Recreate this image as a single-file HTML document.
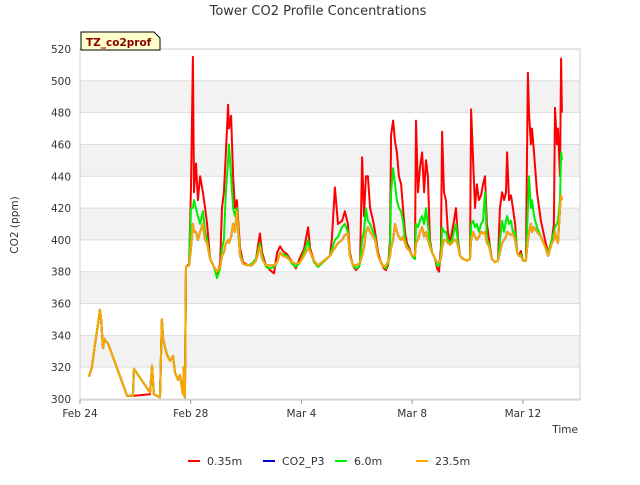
<!DOCTYPE html>
<html><head><meta charset="utf-8"><style>
body{margin:0;background:#fff;}
svg{font-family:"DejaVu Sans","Liberation Sans",sans-serif;}
</style></head><body>
<svg id="chart" width="640" height="480" viewBox="0 0 640 480">
<defs><clipPath id="clip"><rect x="80" y="49" width="500" height="351"/></clipPath></defs>
<rect x="0" y="0" width="640" height="480" fill="#fff"/>
<g id="bands"></g>
<g id="grid"></g>
<rect x="80" y="49" width="500" height="351" fill="none" stroke="#ccc"/>
<g id="series" clip-path="url(#clip)"></g>
<g id="axes"></g>
<text x="318" y="15" text-anchor="middle" font-size="13" fill="#333">Tower CO2 Profile Concentrations</text>
<text x="18" y="225" text-anchor="middle" font-size="10.5" fill="#333" transform="rotate(-90 18 225)">CO2 (ppm)</text>
<text x="578" y="433" text-anchor="end" font-size="10.5" fill="#333">Time</text>
<g>
<path d="M81,50 L81,32 L154,32 L160,38 L160,50 Z" fill="#ffffcc" stroke="#000" stroke-width="1"/>
<text x="86" y="46" font-size="10.5" font-weight="bold" fill="#8b0000">TZ_co2prof</text>
</g>
<g id="legend"></g>
</svg>
<script>
const yTicks=[300,320,340,360,380,400,420,440,460,480,500,520];
const xTickDays=[0,4,8,12,16];
const xTickLabels=["Feb 24","Feb 28","Mar 4","Mar 8","Mar 12"];
const days=[0.32,0.43,0.54,0.65,0.72,0.76,0.83,0.87,0.94,1.01,1.70,1.91,1.95,2.53,2.60,2.67,2.89,2.96,3.00,3.14,3.25,3.36,3.43,3.54,3.61,3.72,3.75,3.79,
3.83,3.94,4.01,4.08,4.12,4.19,4.26,4.34,4.44,4.52,
4.59,4.70,4.84,4.95,5.06,5.13,5.20,5.27,5.35,5.38,
5.46,5.53,5.60,5.67,5.78,5.89,6.07,6.21,6.36,6.50,
6.58,6.72,6.86,7.01,7.12,7.23,7.33,7.48,7.66,7.80,
7.95,8.09,8.24,8.31,8.45,8.60,9.03,9.10,9.21,9.32,
9.47,9.57,9.68,9.75,9.86,9.97,10.08,10.12,10.19,10.26,
10.33,10.40,10.48,10.59,10.66,10.77,10.87,10.98,11.05,11.13,
11.20,11.24,11.31,11.38,11.45,11.52,11.60,11.67,11.74,11.81,
11.92,11.99,12.10,12.14,12.21,12.28,12.36,12.43,12.50,12.57,
12.64,12.72,12.83,12.90,12.97,13.04,13.08,13.15,13.22,13.29,
13.37,13.44,13.51,13.58,13.66,13.73,13.84,13.98,14.09,14.13,
14.20,14.27,14.34,14.41,14.49,14.56,14.63,14.70,14.78,14.88,
14.99,15.10,15.17,15.25,15.32,15.39,15.43,15.50,15.57,15.64,
15.72,15.79,15.86,15.93,16.00,16.11,16.18,16.22,16.29,16.33,
16.40,16.51,16.65,16.80,16.91,17.05,17.12,17.16,17.23,17.27,
17.34,17.38,17.41];
const red=[314,320,334,347,356,351,332,338,336,335,302,302,302,303,321,303,301,350,338,328,324,327,317,312,315,303,320,301,
383,385,433,515,430,448,425,440,430,420,
410,388,383,378,385,420,430,455,485,470,
478,440,420,425,395,386,384,385,388,404,
392,384,381,379,392,396,393,391,386,382,
389,394,408,395,387,383,390,401,433,410,
412,418,410,392,384,381,383,386,452,415,
440,440,420,412,405,392,386,382,381,384,
400,466,475,462,455,440,435,420,405,398,
394,390,388,475,430,445,455,430,450,440,
400,392,388,382,380,395,468,430,425,405,
398,405,412,420,400,390,388,387,388,482,
450,420,435,425,428,435,440,410,400,388,
386,387,420,430,425,430,455,425,428,420,
410,392,390,393,387,387,505,480,460,470,
455,430,412,400,392,400,410,483,460,470,
440,514,480];
const green=[314,320,334,347,356,351,332,338,336,335,302,302,319,304,321,303,301,350,338,328,324,327,317,312,315,303,320,301,
383,384,420,420,425,420,415,410,418,405,
400,388,383,376,382,395,400,430,450,460,
440,420,415,420,392,385,384,385,388,398,
390,383,382,383,386,392,391,390,385,383,
386,392,400,393,386,383,390,394,400,402,
408,410,405,390,384,382,383,386,400,405,
420,412,410,405,402,390,386,383,382,385,
395,430,445,435,425,420,418,412,400,396,
393,390,388,410,408,412,415,410,420,410,
398,392,388,384,384,390,408,405,405,400,
398,400,405,410,398,390,388,387,388,410,
412,408,410,405,410,412,430,400,398,388,
386,387,400,412,405,412,415,410,412,405,
405,392,390,391,387,387,420,440,420,425,
415,408,402,396,392,400,405,408,410,412,
425,455,450];
const orange=[314,320,334,347,356,351,332,338,336,335,302,302,319,304,321,303,301,350,338,328,324,327,317,312,315,303,320,301,
383,384,395,410,405,405,400,405,410,400,
398,388,383,380,383,390,392,398,400,398,
402,410,405,418,390,385,384,384,387,396,
388,384,384,384,386,392,390,389,386,385,
386,390,395,393,387,384,390,392,395,398,
400,403,404,390,384,384,385,386,390,395,
405,408,405,402,400,390,386,383,384,386,
390,395,400,410,405,402,400,402,398,395,
393,390,390,398,400,405,408,402,405,400,
396,392,388,386,386,388,395,400,400,398,
397,398,400,400,396,390,388,387,388,400,
405,402,400,402,405,404,405,398,396,388,
386,387,392,398,400,402,405,404,403,404,
400,392,390,390,387,387,400,405,410,405,
408,405,402,396,390,398,400,405,400,398,
420,428,425];
const blue=orange.slice();
const seriesNames=["CO2_P3","0.35m","6.0m","23.5m"];

const NS="http://www.w3.org/2000/svg";
const X=d=>80+d*27.68;
const Y=v=>399-(v-300)*1.591;
function mk(tag,attrs,parent){const e=document.createElementNS(NS,tag);for(const k in attrs)e.setAttribute(k,attrs[k]);parent.appendChild(e);return e;}
const bands=document.getElementById('bands'),grid=document.getElementById('grid'),axes=document.getElementById('axes'),ser=document.getElementById('series'),leg=document.getElementById('legend');
for(let i=0;i<yTicks.length-1;i++){
  if(i%2===1){const r=mk('rect',{x:80,y:Y(yTicks[i+1]),width:500,height:Y(yTicks[i])-Y(yTicks[i+1]),fill:'#f2f2f2'},bands);
  
  }
}
yTicks.forEach(v=>{
  const l=mk('line',{x1:80,x2:580,y1:Y(v),y2:Y(v),stroke:'#ddd'},grid);
  
  
  const t=mk('text',{x:71,y:Y(v)+4,'text-anchor':'end','font-size':10.5,fill:'#333'},axes);
  t.textContent=v;
  
  
});
xTickDays.forEach((d,i)=>{
  const l=mk('line',{x1:X(d),x2:X(d),y1:400,y2:404,stroke:'#999'},axes);
  
  
  const t=mk('text',{x:X(d),y:417,'text-anchor':'middle','font-size':10.5,fill:'#333'},axes);
  t.textContent=xTickLabels[i];
  
  
});
function draw(vals,color,name){
  const d=vals.map((v,i)=>(i?'L':'M')+X(days[i]).toFixed(1)+','+Y(v).toFixed(1)).join('');
  const p=mk('path',{d:d,fill:'none',stroke:color,'stroke-width':2,'stroke-linejoin':'round'},ser);
  
  
}
draw(blue,'#0000cc','co2-p3');
draw(red,'#ff0000','0-35m');
draw(green,'#00ee00','6-0m');
draw(orange,'#ffa500','23-5m');
const legItems=[["0.35m","#ff0000",188],["CO2_P3","#0000cc",263],["6.0m","#00ee00",335],["23.5m","#ffa500",416]];
legItems.forEach(it=>{
  const g=mk('g',{},leg);
  
  
  mk('line',{x1:it[2],x2:it[2]+12,y1:461,y2:461,stroke:it[1],'stroke-width':2},g);
  const t=mk('text',{x:it[2]+19,y:465,'font-size':11,fill:'#333'},g);
  t.textContent=it[0];
});
</script>
</body></html>
